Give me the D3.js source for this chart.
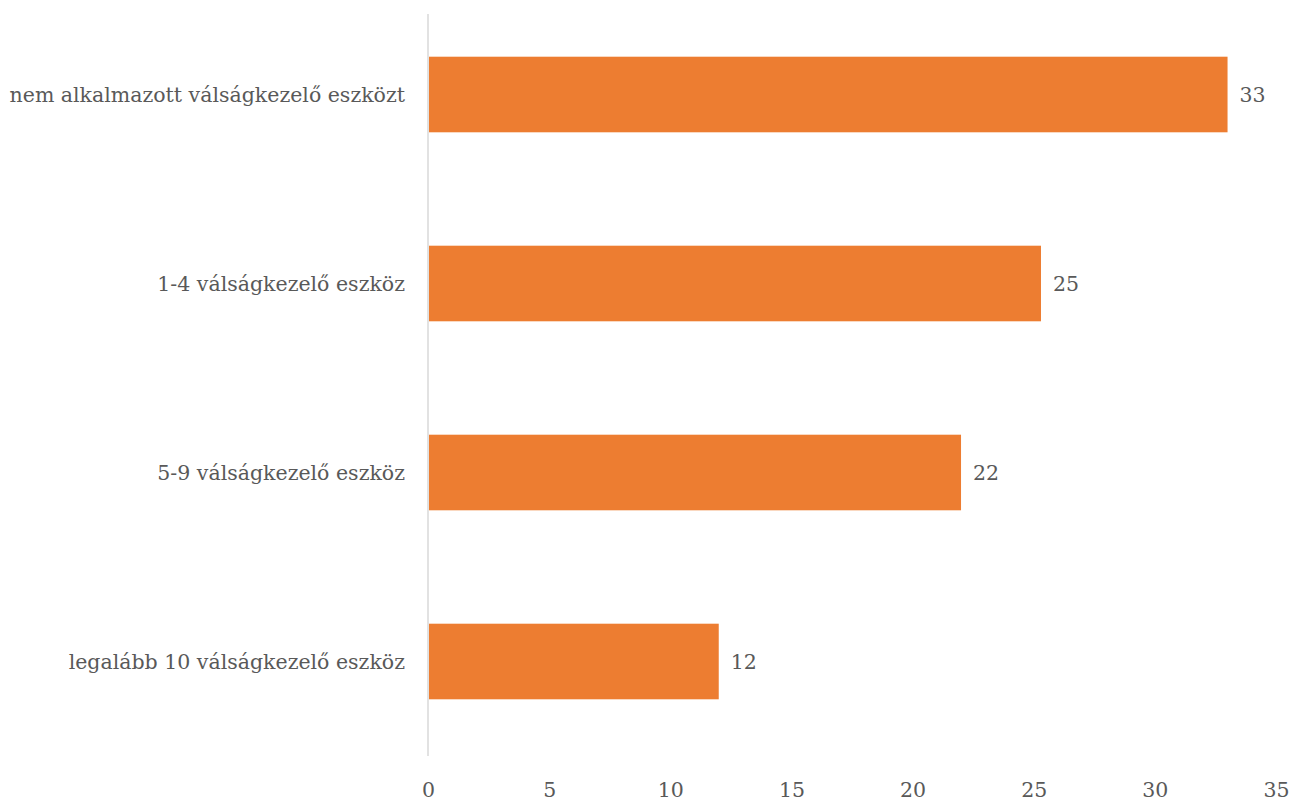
<!DOCTYPE html>
<html>
<head>
<meta charset="utf-8">
<script src="https://cdn.jsdelivr.net/npm/d3@7"></script>
<style>
body { margin: 0; background: #fff; }
</style>
</head>
<body>
<div id="viz"></div>
<script>
var width = 1292;
var height = 801;

var categories = ["nem alkalmazott válságkezelő eszközt", "1-4 válságkezelő eszköz", "5-9 válságkezelő eszköz", "legalább 10 válságkezelő eszköz"];
var values = [33, 25.3, 22, 12];
var ticks = [0, 5, 10, 15, 20, 25, 30, 35];

var font = "DejaVu Serif";
var fontSize = 20.5;
var textColor = "#595959";

var canvas = d3.select("#viz")
	.append("svg")
	.attr("width", width)
	.attr("height", height);

var x = d3.scaleLinear()
	.domain([0, 35])
	.range([428, 1276]);

var y = d3.scaleBand()
	.domain(categories)
	.range([0, 756])
	.paddingInner(0.6)
	.paddingOuter(0.3);

// vertical axis line
canvas.append("line")
	.attr("x1", x(0))
	.attr("x2", x(0))
	.attr("y1", 14)
	.attr("y2", 756)
	.attr("stroke", "#d9d9d9")
	.attr("stroke-width", 1.5);

var xAxis = d3.axisBottom(x)
	.tickValues(ticks)
	.tickSize(0)
	.tickPadding(0);

var gx = canvas.append("g")
	.attr("transform", "translate(0,797)")
	.call(xAxis);
gx.select(".domain").remove();
gx.selectAll("text")
	.attr("dy", 0)
	.attr("font-family", font)
	.attr("font-size", fontSize)
	.attr("fill", textColor);

canvas.append("g")
	.selectAll("rect")
	.data(values)
	.enter()
		.append("rect")
		.attr("x", x(0) + 1)
		.attr("y", function(d, i){ return y(categories[i]); })
		.attr("width", function(d){ return x(d) - x(0) - 1; })
		.attr("height", y.bandwidth())
		.attr("fill", "#ED7D31");

canvas.append("g")
	.selectAll("text")
	.data(values)
	.enter()
		.append("text")
		.attr("x", function(d){ return x(d) + 12; })
		.attr("y", function(d, i){ return y(categories[i]) + y.bandwidth() / 2; })
		.attr("dy", "0.35em")
		.attr("font-family", font)
		.attr("font-size", fontSize)
		.attr("fill", textColor)
		.text(function(d){ return d3.format(".0f")(d); });

canvas.append("g")
	.selectAll("text")
	.data(categories)
	.enter()
		.append("text")
		.attr("x", 405)
		.attr("y", function(d){ return y(d) + y.bandwidth() / 2; })
		.attr("dy", "0.35em")
		.attr("text-anchor", "end")
		.attr("font-family", font)
		.attr("font-size", fontSize)
		.attr("fill", textColor)
		.text(function(d){ return d; });
</script>
</body>
</html>
